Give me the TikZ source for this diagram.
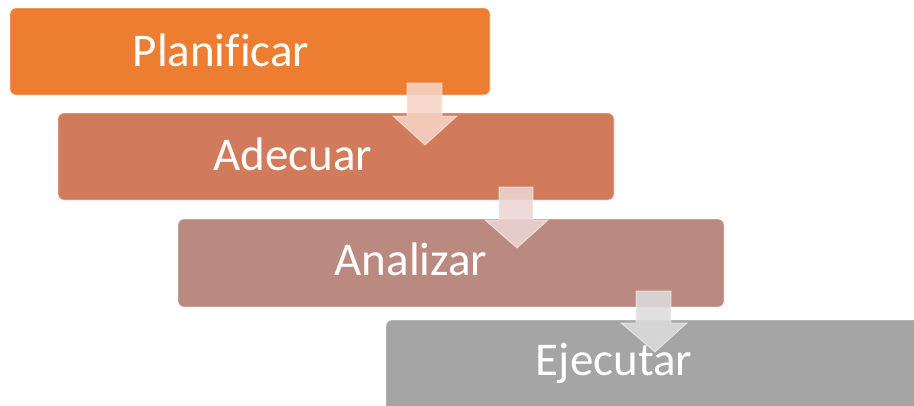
\documentclass[tikz,border=0pt]{standalone}
\usepackage{fontspec}
\setmainfont[Ligatures=NoCommon]{Carlito}
\definecolor{cA}{HTML}{ED7D31}
\definecolor{cB}{HTML}{D27B5C}
\definecolor{cC}{HTML}{BA8A80}
\definecolor{cD}{HTML}{A5A5A5}
\definecolor{aA}{HTML}{F7D3C6}
\definecolor{aB}{HTML}{ECD6D4}
\definecolor{aC}{HTML}{DCDCDC}
\begin{document}
\begin{tikzpicture}[x=1pt,y=-1pt,
  stepbox/.style={rounded corners=6pt,draw=white,draw opacity=0.5,line width=0.8pt},
  steptext/.style={anchor=base,text=white,font=\fontsize{47}{50}\selectfont,inner sep=0pt},
  downarrow/.style={draw=white,draw opacity=0.6,line width=0.8pt,fill opacity=0.88}]
\useasboundingbox (0,0) rectangle (914,405);
\clip (0,0) rectangle (914,405);
% boxes
\fill[cA,stepbox] (10,8) rectangle (490,95);
\fill[cB,stepbox] (58,113) rectangle (614,200);
\fill[cC,stepbox] (178,219) rectangle (724,307);
\fill[cD,stepbox] (386,320) rectangle (940,420);
% texts
\node[steptext] (t1) at (221,66) {Planificar};
\node[steptext] (t2) at (293,170) {Adecuar};
\node[steptext] (t3) at (411,275) {Analizar};
\node[steptext] (t4) at (614,375) {Ejecutar};
% arrows
\filldraw[downarrow,fill=aA] (407,83) -- (442,83) -- (442,116) -- (457,116) -- (425,145) -- (393,116) -- (407,116) -- cycle;
\filldraw[downarrow,fill=aB] (499,187) -- (533,187) -- (533,220) -- (548,220) -- (517,248) -- (485,220) -- (499,220) -- cycle;
\filldraw[downarrow,fill=aC] (636,291) -- (671,291) -- (671,323) -- (687,323) -- (655,352) -- (621,323) -- (636,323) -- cycle;
\end{tikzpicture}
\end{document}
